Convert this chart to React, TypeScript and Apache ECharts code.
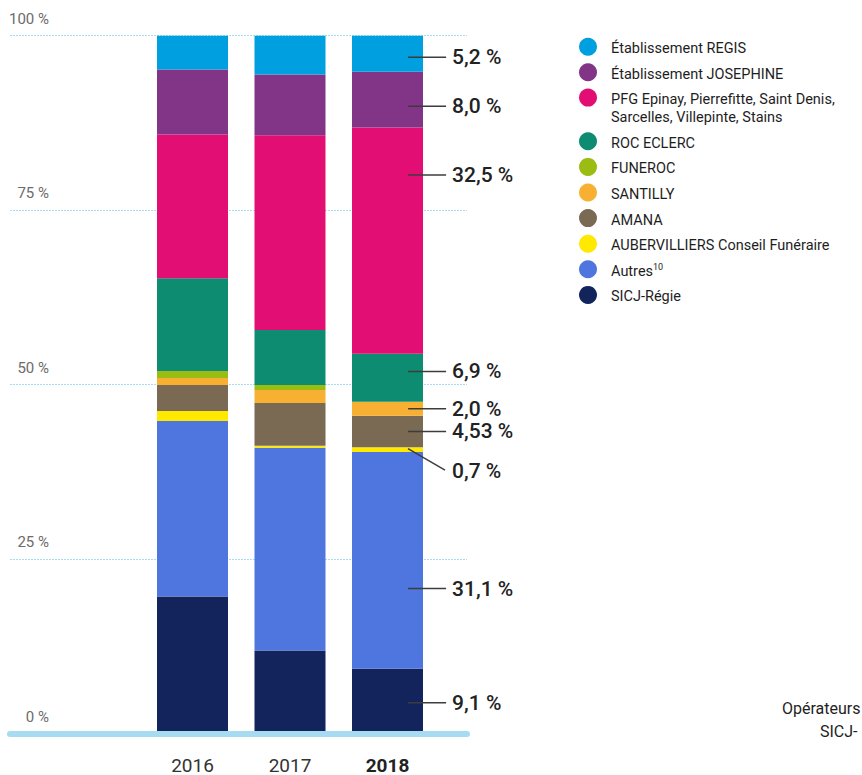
import React, { useEffect, useRef } from 'react';
import * as echarts from 'echarts';

// ---------- data ----------
const YEARS = ['2016', '2017', '2018'];
const PFG_LINE1 = 'PFG Epinay, Pierrefitte, Saint Denis,';
const PFG_LINE2 = 'Sarcelles, Villepinte, Stains';
const PFG_NAME = PFG_LINE1 + ' ' + PFG_LINE2;

// values in % of the year
const REGIS = [4.87, 5.59, 5.2];
const JOSEPHINE = [9.32, 8.7, 8.0];
const PFG = [20.64, 27.99, 32.5];
const ROC_ECLERC = [13.33, 7.88, 6.9];
const FUNEROC = [1.0, 0.72, 0];
const SANTILLY = [1.0, 1.86, 2.0];
const AMANA = [3.73, 6.16, 4.53];
const AUBERVILLIERS = [1.43, 0.29, 0.7];
const AUTRES = [25.23, 29.1, 31.1];
const SICJ = [19.45, 11.71, 9.1];

const Y_TICKS = [0, 25, 50, 75, 100];

// ---------- styling ----------
const FONT = 'Roboto';
type S = { name: string; data: number[]; color: string; labelY?: number };
// stacked from bottom to top; labelY = position of the 2018 leader line inside the segment (from top)
const SERIES: S[] = [
  { name: 'SICJ-Régie', data: SICJ, color: '#13235c', labelY: 54 },
  { name: 'Autres', data: AUTRES, color: '#4f76de', labelY: 63 },
  { name: 'AUBERVILLIERS Conseil Funéraire', data: AUBERVILLIERS, color: '#ffe900' },
  { name: 'AMANA', data: AMANA, color: '#7a6953', labelY: 50 },
  { name: 'SANTILLY', data: SANTILLY, color: '#f7b032', labelY: 50 },
  { name: 'FUNEROC', data: FUNEROC, color: '#9bbc12' },
  { name: 'ROC ECLERC', data: ROC_ECLERC, color: '#0e8c72', labelY: 37 },
  { name: PFG_NAME, data: PFG, color: '#e30e73', labelY: 21 },
  { name: 'Établissement JOSEPHINE', data: JOSEPHINE, color: '#823587', labelY: 62 },
  { name: 'Établissement REGIS', data: REGIS, color: '#009fe0', labelY: 60 },
];

const fmt = (v: number) =>
  (Number.isInteger(Math.round(v * 100) / 10) ? v.toFixed(1) : v.toFixed(2)).replace('.', ',') + ' %';

const LABEL_RICH = {
  l: { width: 38, height: 1.5, backgroundColor: '#3c3c3c', verticalAlign: 'middle' as const },
  t: { fontSize: 21, fontWeight: 500, color: '#222', fontFamily: FONT, padding: [0, 0, 0, 6], lineHeight: 26 },
};

export default function App() {
  const ref = useRef<HTMLDivElement>(null);

  useEffect(() => {
    document.body.style.margin = '0';
    if (!ref.current) return;
    const chart = echarts.init(ref.current, undefined, { renderer: 'svg' });

    const series = SERIES.map((s) => ({
      type: 'bar' as const,
      name: s.name,
      stack: 'total',
      xAxisIndex: 1,
      yAxisIndex: 1,
      barWidth: 71,
      itemStyle: { color: s.color },
      data: s.data.map((v, i) => {
        if (i !== 2 || v === 0) return v;
        if (s.labelY === undefined) {
          // small segment: label pushed below, diagonal leader drawn as graphic
          return {
            value: v,
            label: {
              show: true,
              position: [94, 24],
              align: 'left',
              verticalAlign: 'middle',
              formatter: () => `{t|${fmt(v)}}`,
              rich: LABEL_RICH,
            },
          };
        }
        return {
          value: v,
          label: {
            show: true,
            position: ['79%', s.labelY + '%'],
            align: 'left',
            verticalAlign: 'middle',
            formatter: () => `{l| }{t|${fmt(v)}}`,
            rich: LABEL_RICH,
          },
        };
      }),
    }));

    const legendText = {
      fontSize: 14.5,
      color: '#1e1e1e',
      fontFamily: FONT,
      lineHeight: 18,
      padding: [4, 0, 0, 9],
      rich: { sup: { fontSize: 9, verticalAlign: 'top' as const, lineHeight: 12, color: '#1e1e1e', fontFamily: FONT } },
    };
    const legendFormatter = (name: string) =>
      name === PFG_NAME ? PFG_LINE1 : name === 'Autres' ? 'Autres{sup|10}' : name;
    const top3 = SERIES.slice(7).reverse().map((s) => s.name);
    const rest = SERIES.slice(0, 7).reverse().map((s) => s.name);

    const txt = { fontFamily: FONT, fill: '#1e1e1e', verticalAlign: 'middle' };
    const baseGraphic: any[] = [
      { id: 'pfg2', type: 'text', x: 611, y: 117, style: { ...txt, text: PFG_LINE2, fontSize: 14.5 } },
      { id: 'op', type: 'text', x: 782, y: 708, style: { ...txt, text: 'Opérateurs', fontSize: 16 } },
      { id: 'sicj', type: 'text', x: 820, y: 731, style: { ...txt, text: 'SICJ-', fontSize: 16 } },
    ];

    chart.setOption({
      animation: false,
      backgroundColor: '#ffffff',
      textStyle: { fontFamily: FONT },
      grid: [
        { left: 10, right: 395, top: 35.7, bottom: 41.3 },
        { left: 143.75, right: 862 - 143.75 - 292.5, top: 35.7, bottom: 41.3 },
      ],
      xAxis: [
        {
          gridIndex: 0,
          type: 'value',
          min: 0,
          max: 1,
          z: 10,
          axisLine: { show: true, lineStyle: { color: '#a6dbf1', width: 6 } },
          axisTick: { show: false },
          axisLabel: { show: false },
          splitLine: { show: false },
        },
        {
          gridIndex: 1,
          type: 'category',
          data: YEARS.map((y, i) =>
            i === YEARS.length - 1 ? { value: y, textStyle: { fontWeight: 'bold', color: '#222' } } : y
          ),
          axisLine: { show: false },
          axisTick: { show: false },
          axisLabel: { fontSize: 19, color: '#333', margin: 23, lineHeight: 20, fontFamily: FONT },
        },
      ],
      yAxis: [
        {
          gridIndex: 0,
          type: 'value',
          min: Y_TICKS[0],
          max: Y_TICKS[Y_TICKS.length - 1],
          interval: Y_TICKS[1] - Y_TICKS[0],
          axisLine: { show: false },
          axisTick: { show: false },
          axisLabel: {
            inside: true,
            margin: 39,
            align: 'right',
            verticalAlign: 'bottom',
            padding: [0, 0, 8, 0],
            lineHeight: 18,
            fontSize: 15,
            color: '#6b6b6b',
            fontFamily: FONT,
            showMinLabel: true,
            showMaxLabel: true,
            formatter: (v: number) => v + ' %',
          },
          splitLine: { show: true, lineStyle: { type: [2, 1], color: '#a9dbf1', width: 1 } },
        },
        { gridIndex: 1, type: 'value', min: 0, max: 100, show: false },
      ],
      legend: [
        {
          orient: 'vertical',
          left: 579,
          top: 35.8,
          padding: 0,
          itemWidth: 18,
          itemHeight: 18,
          itemGap: 3.4,
          icon: 'circle',
          selectedMode: false,
          data: top3,
          formatter: legendFormatter,
          textStyle: legendText,
        },
        {
          orient: 'vertical',
          left: 579,
          top: 130.3,
          padding: 0,
          itemWidth: 18,
          itemHeight: 18,
          itemGap: 3.6,
          icon: 'circle',
          selectedMode: false,
          data: rest,
          formatter: legendFormatter,
          textStyle: legendText,
        },
      ],
      graphic: baseGraphic,
      series,
    });

    // diagonal leader line for the small AUBERVILLIERS 2018 segment
    const mid = SICJ[2] + AUTRES[2] + AUBERVILLIERS[2] / 2;
    const p = chart.convertToPixel({ gridIndex: 1 }, [YEARS[2], mid]) as number[];
    if (p && isFinite(p[0]) && isFinite(p[1])) {
      chart.setOption({
        graphic: [
          ...baseGraphic,
          {
            id: 'diag',
            type: 'line',
            shape: { x1: p[0] + 20.5, y1: p[1] - 1, x2: p[0] + 57.5, y2: p[1] + 20.5 },
            style: { stroke: '#3c3c3c', lineWidth: 1.4 },
            z: 20,
          },
        ],
      });
    }

    return () => chart.dispose();
  }, []);

  return <div ref={ref} style={{ width: 862, height: 775 }} />;
}
